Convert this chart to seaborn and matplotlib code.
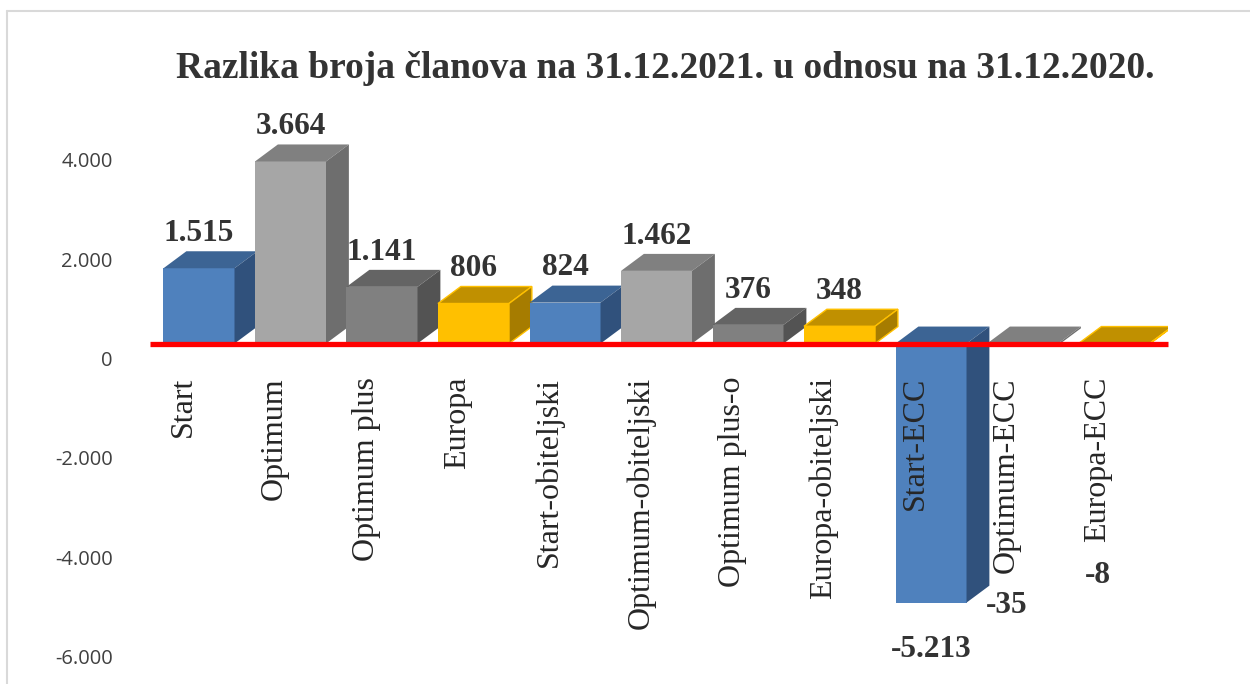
import matplotlib
matplotlib.use('Agg')
import matplotlib.pyplot as plt
import matplotlib.transforms as mtransforms
from matplotlib.lines import Line2D
import pandas as pd
import seaborn as sns

categories = ['Start', 'Optimum', 'Optimum plus', 'Europa', 'Start-obiteljski',
              'Optimum-obiteljski', 'Optimum plus-o', 'Europa-obiteljski',
              'Start-ECC', 'Optimum-ECC', 'Europa-ECC']
differences = [1515, 3664, 1141, 806, 824, 1462, 376, 348, -5213, -35, -8]
families = ['start', 'optimum', 'optimum_plus', 'europa',
            'start', 'optimum', 'optimum_plus', 'europa',
            'start', 'optimum', 'europa']
y_ticks = [4000, 2000, 0, -2000, -4000, -6000]
title = 'Razlika broja članova na 31.12.2021. u odnosu na 31.12.2020.'

# front / top / side shade per product family (fake 3D like the Excel chart)
shades = {
    'start': ('#4f81bd', '#3c6494', '#30517c'),
    'optimum': ('#a6a6a6', '#808080', '#6e6e6e'),
    'optimum_plus': ('#808080', '#646464', '#535353'),
    'europa': ('#ffc000', '#c09000', '#a67c00'),
}

def fmt(v):
    return f'{v:,.0f}'.replace(',', '.')

sns.set_style('white')
plt.rcParams['font.family'] = ['Liberation Serif', 'DejaVu Serif']

fig = plt.figure(figsize=(12.5, 6.84), dpi=100)
ax = fig.add_axes([150 / 1250, 0, (1168 - 150) / 1250, 11650 * 0.0497 / 684])

df = pd.DataFrame({'kategorija': categories, 'razlika': differences})
palette = {c: shades[f][0] for c, f in zip(categories, families)}
sns.barplot(data=df, x='kategorija', y='razlika', hue='kategorija', palette=palette,
            dodge=False, width=0.776, saturation=1, legend=False, linewidth=0, ax=ax)

ax.set_ylim(-6850, 4800)
ax.set_xlim(-0.5355, 10.59)

dx, dy = 0.25, 342   # depth of the 3D boxes in data units
bars = sorted(ax.patches, key=lambda p: p.get_x())
for i, (p, fam) in enumerate(zip(bars, families)):
    z = 1 + 0.1 * i
    p.set_zorder(z)
    x0, w = p.get_x(), p.get_width()
    y0, h = p.get_y(), p.get_height()
    top, bot = max(y0, y0 + h), min(y0, y0 + h)
    edge = '#ffc000' if fam == 'europa' else 'none'
    ax.fill([x0, x0 + w, x0 + w + dx, x0 + dx], [top, top, top + dy, top + dy],
            facecolor=shades[fam][1], edgecolor=edge, lw=1, zorder=z)
    ax.fill([x0 + w, x0 + w + dx, x0 + w + dx, x0 + w], [bot, bot + dy, top + dy, top],
            facecolor=shades[fam][2], edgecolor=edge, lw=1, zorder=z)

# axes: red zero line, no other spines
for s in ['top', 'right', 'left']:
    ax.spines[s].set_visible(False)
ax.spines['bottom'].set_position(('data', 0))
ax.spines['bottom'].set_color('#ff0000')
ax.spines['bottom'].set_linewidth(3.8)
ax.spines['bottom'].set_zorder(5)
ax.spines['bottom'].set_capstyle('butt')
ax.xaxis.set_zorder(6)

ax.set_xlabel('')
ax.set_ylabel('')
ax.set_xticks(range(len(categories)))
ax.set_xticklabels(categories, rotation=90, fontsize=23, color='#262626')
ax.set_yticks(y_ticks)
ax.set_yticklabels([fmt(v) for v in y_ticks], fontsize=14.5, color='#404040',
                   family=['Open Sans', 'DejaVu Sans'])
ax.tick_params(axis='x', length=0, pad=24)
ax.tick_params(axis='y', length=0, pad=27)

xshift = mtransforms.ScaledTranslation(-16 / 100, 0, fig.dpi_scale_trans)
for lab in ax.get_xticklabels():
    lab.set_transform(lab.get_transform() + xshift)
yshift = mtransforms.ScaledTranslation(0, -15 / 100, fig.dpi_scale_trans)
for lab in ax.get_yticklabels():
    lab.set_transform(lab.get_transform() + yshift)

fig.canvas.draw()
renderer = fig.canvas.get_renderer()
ticklabels = ax.get_xticklabels()
for p, v, lab in zip(bars, differences, ticklabels):
    cx = p.get_x() + p.get_width() / 2
    kw = dict(ha='center', va='center', fontsize=22.5, fontweight='bold', color='#333333')
    if v > 0:
        ax.annotate(fmt(v), (cx, v), xytext=(0, 25), textcoords='offset points', **kw)
    else:
        bar_bottom = ax.transData.transform((cx, v))[1]
        lab_bottom = lab.get_window_extent(renderer).y0
        if bar_bottom < lab_bottom:
            ax.annotate(fmt(v), (cx, v), xytext=(0, -34), textcoords='offset points', **kw)
        else:
            ax.annotate(fmt(v), (0.5, 0), xycoords=lab, xytext=(0, -24),
                        textcoords='offset points', **kw)

fig.text(665 / 1250, 1 - 68 / 684, title, ha='center', va='center',
         fontsize=27, fontweight='bold', color='#333333')

# chart area border (light grey, cut off on the right and bottom)
fig.add_artist(Line2D([7 / 1250, 7 / 1250], [0, 1 - 11 / 684], color='#d9d9d9', lw=1.5))
fig.add_artist(Line2D([7 / 1250, 1], [1 - 11 / 684, 1 - 11 / 684], color='#d9d9d9', lw=1.5))

fig.savefig('out.png', dpi=100)
